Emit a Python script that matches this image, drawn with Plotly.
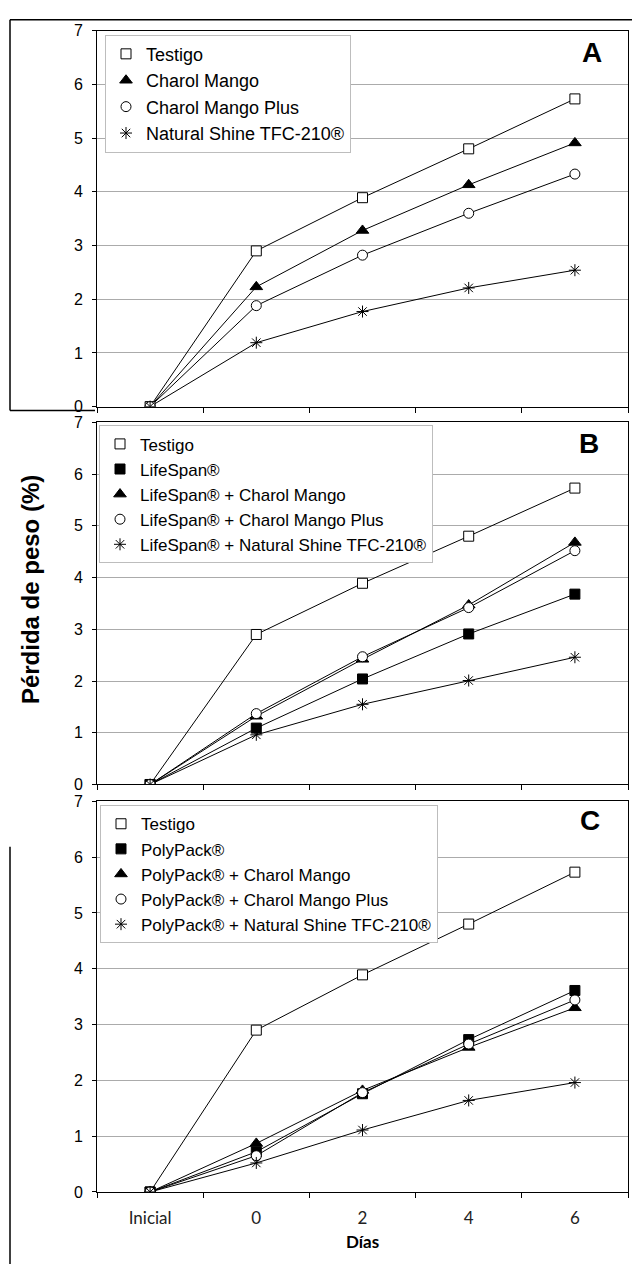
import plotly.graph_objects as go

W, H = 632, 1273

days = ["Inicial", "0", "2", "4", "6"]

# Panel A
a_names = ["Testigo", "Charol Mango", "Charol Mango Plus", "Natural Shine TFC-210®"]
a_testigo = [0, 2.90, 3.89, 4.80, 5.73]
a_charol_mango = [0, 2.23, 3.28, 4.13, 4.91]
a_charol_mango_plus = [0, 1.88, 2.82, 3.60, 4.33]
a_natural_shine = [0, 1.19, 1.77, 2.21, 2.54]

# Panel B
b_names = ["Testigo", "LifeSpan®", "LifeSpan® + Charol Mango",
           "LifeSpan® + Charol Mango Plus", "LifeSpan® + Natural Shine TFC-210®"]
b_testigo = [0, 2.90, 3.89, 4.80, 5.73]
b_lifespan = [0, 1.09, 2.04, 2.91, 3.68]
b_ls_charol_mango = [0, 1.32, 2.42, 3.47, 4.68]
b_ls_charol_mango_plus = [0, 1.37, 2.47, 3.42, 4.52]
b_ls_natural_shine = [0, 0.96, 1.55, 2.01, 2.46]

# Panel C
c_names = ["Testigo", "PolyPack®", "PolyPack® + Charol Mango",
           "PolyPack® + Charol Mango Plus", "PolyPack® + Natural Shine TFC-210®"]
c_testigo = [0, 2.90, 3.89, 4.80, 5.73]
c_polypack = [0, 0.72, 1.76, 2.73, 3.61]
c_pp_charol_mango = [0, 0.87, 1.82, 2.59, 3.30]
c_pp_charol_mango_plus = [0, 0.65, 1.78, 2.65, 3.44]
c_pp_natural_shine = [0, 0.52, 1.11, 1.64, 1.96]

y_title = "Pérdida de peso (%)"
x_title = "Días"
panel_labels = ["A", "B", "C"]

STYLE = {
    "open_square": dict(symbol="square", size=10, color="white", line=dict(color="black", width=1)),
    "filled_square": dict(symbol="square", size=10, color="black", line=dict(color="black", width=1)),
    "triangle": dict(symbol="triangle-up", size=11, color="black", line=dict(color="black", width=1)),
    "open_circle": dict(symbol="circle", size=10, color="white", line=dict(color="black", width=1)),
    "asterisk": dict(symbol="asterisk-open", size=10, color="black", line=dict(color="black", width=1)),
}

panels = [
    (a_names, [a_testigo, a_charol_mango, a_charol_mango_plus, a_natural_shine],
     ["open_square", "triangle", "open_circle", "asterisk"]),
    (b_names, [b_testigo, b_lifespan, b_ls_charol_mango, b_ls_charol_mango_plus, b_ls_natural_shine],
     ["open_square", "filled_square", "triangle", "open_circle", "asterisk"]),
    (c_names, [c_testigo, c_polypack, c_pp_charol_mango, c_pp_charol_mango_plus, c_pp_natural_shine],
     ["open_square", "filled_square", "triangle", "open_circle", "asterisk"]),
]

px_y = [(23, 404), (420, 787), (804, 1200)]
px_x = (97, 628)
legend_pos = [(105, 27), (99, 423), (100, 808)]
legend_size = [18, 17, 17]
label_pos = [(592, 45), (589, 441), (590, 824)]

def py(p):
    return 1 - p / H

def pxx(p):
    return p / W

fig = go.Figure()
layout = dict(
    width=W, height=H, margin=dict(l=0, r=0, t=0, b=0),
    paper_bgcolor="white", plot_bgcolor="white", showlegend=True,
)

for i, (names, series, kinds) in enumerate(panels):
    k = i + 1
    xa = "x" if k == 1 else f"x{k}"
    ya = "y" if k == 1 else f"y{k}"
    lg = "legend" if k == 1 else f"legend{k}"
    for name, vals, kind in zip(names, series, kinds):
        fig.add_trace(go.Scatter(
            x=days, y=vals, name=name, mode="lines",
            line=dict(color="black", width=1), showlegend=False,
            xaxis=xa, yaxis=ya, legendgroup=f"{k}-{name}", hoverinfo="skip",
        ))
    for name, vals, kind in zip(names, series, kinds):
        fig.add_trace(go.Scatter(
            x=days, y=vals, name=name, mode="markers", marker=STYLE[kind],
            xaxis=xa, yaxis=ya, legend=lg, legendgroup=f"{k}-{name}",
        ))
    top, bot = px_y[i]
    layout[f"xaxis{k}"] = dict(
        type="category", categoryorder="array", categoryarray=days,
        range=[-0.5, 4.5], domain=[pxx(px_x[0]), pxx(px_x[1])], anchor=ya,
        tickson="boundaries", ticks="outside", ticklen=5, tickcolor="black",
        showline=True, linecolor="black", linewidth=1, mirror=True,
        showgrid=False, zeroline=False,
        showticklabels=(k == 3),
        tickfont=dict(family="Lato", size=17, color="#222"),
        ticklabelstandoff=11,
    )
    if k == 3:
        layout[f"xaxis{k}"]["title"] = dict(text=f"<b>{x_title}</b>", standoff=8,
                                            font=dict(family="Lato", size=17, color="black"))
    layout[f"yaxis{k}"] = dict(
        range=[0, 7], dtick=1, domain=[py(bot), py(top)], anchor=xa,
        ticks="outside", ticklen=4, tickcolor="black",
        showline=True, linecolor="black", linewidth=1, mirror=True,
        showgrid=True, gridcolor="#ababab", gridwidth=1, zeroline=False,
        tickfont=dict(family="Liberation Sans, Arial", size=16, color="black"),
        ticklabelstandoff=6,
    )
    layout[f"xaxis{k+3}"] = dict(
        overlaying=xa, anchor=ya, range=[-0.5, 4.5],
        tickmode="array", tickvals=[-0.5, 0.5, 1.5, 2.5, 3.5, 4.5],
        ticks="inside", ticklen=5, tickcolor="black", showticklabels=False,
        showgrid=False, zeroline=False, showline=False,
        minor=dict(tickmode="array", tickvals=[1, 2, 3, 4], ticks="inside", ticklen=3,
                   tickcolor="black", showgrid=False),
    )
    layout[f"yaxis{k+3}"] = dict(
        overlaying=ya, anchor=xa, range=[0, 7], tickmode="array", tickvals=list(range(8)),
        ticks="inside", ticklen=3, tickcolor="black", showticklabels=False,
        showgrid=False, zeroline=False, showline=False,
    )
    lx, ly = legend_pos[i]
    layout[lg] = dict(
        x=pxx(lx), y=py(ly), xanchor="left", yanchor="top", xref="paper", yref="paper",
        bgcolor="white", bordercolor="#bdbdbd", borderwidth=1,
        font=dict(family="Liberation Sans, Arial", size=legend_size[i], color="black"),
        tracegroupgap=0, itemwidth=30,
    )

annotations = []
for i, lab in enumerate(panel_labels):
    x0, y0 = label_pos[i]
    annotations.append(dict(
        text=f"<b>{lab}</b>", x=pxx(x0), y=py(y0), xref="paper", yref="paper",
        xanchor="center", yanchor="middle", showarrow=False,
        font=dict(family="Liberation Sans, Arial", size=28, color="black"),
    ))
annotations.append(dict(
    text=f"<b>{y_title}</b>", x=pxx(30), y=py(590), xref="paper", yref="paper",
    xanchor="center", yanchor="middle", showarrow=False, textangle=-90,
    font=dict(family="Liberation Sans, Arial", size=24, color="black"),
))
layout["annotations"] = annotations

line = dict(color="black", width=1.5)
layout["shapes"] = [
    dict(type="line", xref="paper", yref="paper", x0=pxx(10), x1=1, y0=py(12), y1=py(12), line=line),
    dict(type="line", xref="paper", yref="paper", x0=pxx(10), x1=pxx(10), y0=py(12), y1=py(408), line=line),
    dict(type="line", xref="paper", yref="paper", x0=pxx(10), x1=pxx(95), y0=py(408), y1=py(408), line=line),
    dict(type="line", xref="paper", yref="paper", x0=pxx(10), x1=pxx(10), y0=py(850), y1=0, line=line),
]

fig.update_layout(**layout)
fig.write_html("out.html")
